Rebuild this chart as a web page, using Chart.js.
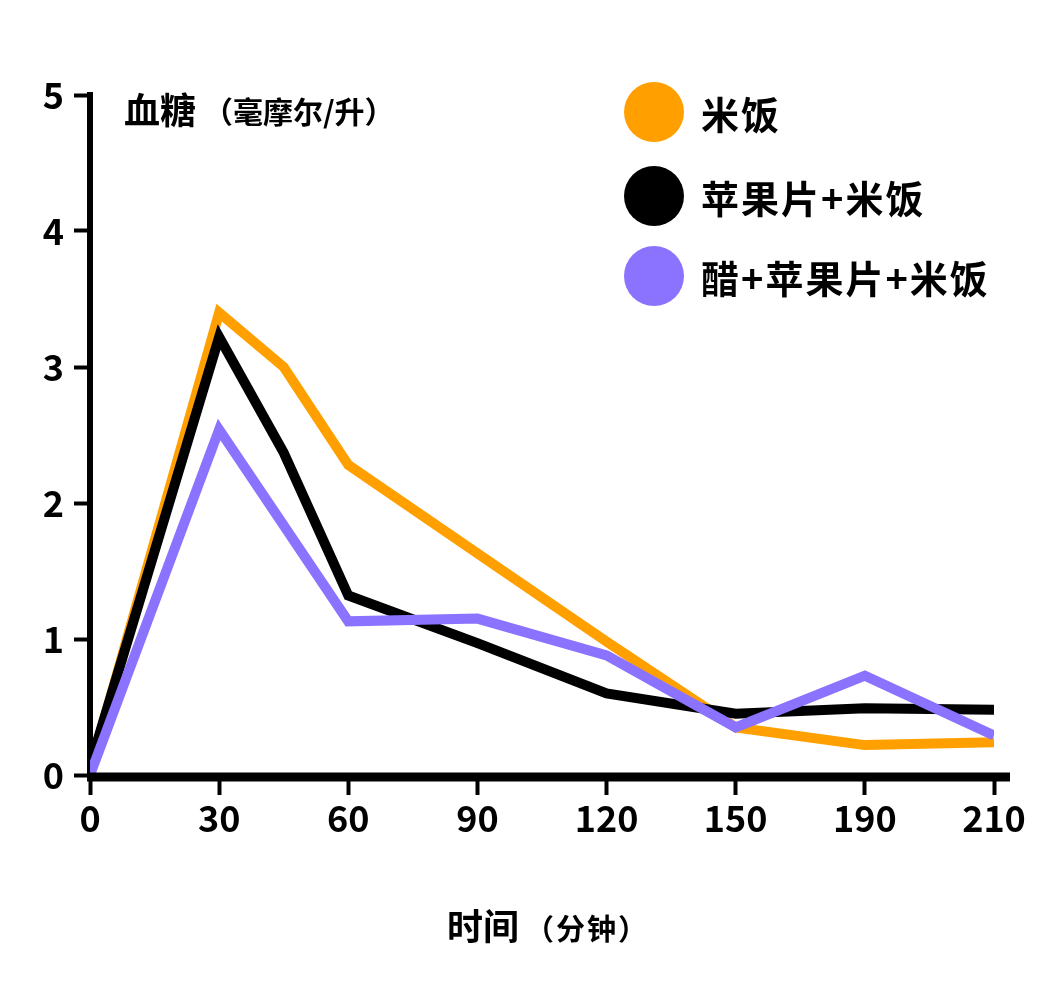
<!DOCTYPE html>
<html>
<head>
<meta charset="utf-8">
<script src="https://cdn.jsdelivr.net/npm/chart.js@4.4.0/dist/chart.umd.min.js"></script>
<style>
  html, body { margin: 0; padding: 0; background: #fff; }
  #wrap { width: 1049px; height: 994px; position: relative; }
</style>
</head>
<body>
<div id="wrap"><canvas id="chart"></canvas></div>
<script>
// x slots are evenly spaced; the slot at 180 carries the "190" label
const timeSlots = [0, 30, 45, 60, 90, 120, 150, 180, 210];
const tickSlots = [0, 30, 60, 90, 120, 150, 180, 210];
const tickLabels = ["0", "30", "60", "90", "120", "150", "190", "210"];

const seriesNames = ["米饭", "苹果片+米饭", "醋+苹果片+米饭"];
const seriesColors = ["#ffa000", "#000000", "#8b72ff"];

const riceValues = [0.04, 3.4, 3.0, 2.28, 1.63, 0.98, 0.35, 0.22, 0.24];
const appleValues = [0.07, 3.22, 2.37, 1.32, 0.97, 0.6, 0.45, 0.49, 0.48];
const vinegarValues = [0.0, 2.54, null, 1.13, 1.15, 0.88, 0.35, 0.73, 0.29];

const FONT = '"Noto Sans CJK SC", "Noto Sans", sans-serif';

function toPoints(values) {
  return values.map((v, i) => ({ x: timeSlots[i], y: v }));
}

const allSeries = [riceValues, appleValues, vinegarValues];

const decorPlugin = {
  id: "decor",
  afterDraw(chart) {
    const ctx = chart.ctx;
    const xs = chart.scales.x;
    const ys = chart.scales.y;
    const y0 = ys.getPixelForValue(0);

    // x axis line (runs a bit past the last tick)
    ctx.save();
    ctx.strokeStyle = "#000";
    ctx.lineWidth = 9;
    ctx.beginPath();
    ctx.moveTo(xs.left - 3, y0 + 2);
    ctx.lineTo(1010, y0 + 2);
    ctx.stroke();

    // y axis title
    ctx.fillStyle = "#000";
    ctx.textBaseline = "middle";
    ctx.textAlign = "left";
    ctx.font = "bold 36px " + FONT;
    ctx.fillText("血糖", 124, 110);
    ctx.font = "bold 30px " + FONT;
    ctx.fillText("（毫摩尔/升）", 203, 112);

    // x axis title
    ctx.font = "bold 36px " + FONT;
    const w1 = ctx.measureText("时间").width;
    const startX = 447;
    ctx.fillText("时间", startX, 926);
    ctx.font = "bold 29px " + FONT;
    ctx.letterSpacing = "2px";
    ctx.fillText("（分钟）", startX + w1 + 6, 929);

    // legend
    const legendY = [112, 196, 276];
    chart.data.datasets.forEach((ds, i) => {
      ctx.fillStyle = ds.borderColor;
      ctx.beginPath();
      ctx.arc(654, legendY[i], 30, 0, Math.PI * 2);
      ctx.fill();
      ctx.fillStyle = "#000";
      ctx.font = "bold 38px " + FONT;
      ctx.fillText(ds.label, 701, legendY[i] + 3);
    });
    ctx.restore();
  },
};

new Chart(document.getElementById("chart"), {
  type: "line",
  data: {
    datasets: allSeries.map((vals, i) => ({
      label: seriesNames[i],
      data: toPoints(vals),
      borderColor: seriesColors[i],
      backgroundColor: seriesColors[i],
      borderWidth: 10,
      borderJoinStyle: "miter",
      borderCapStyle: "butt",
      pointRadius: 0,
      tension: 0,
      spanGaps: true,
      order: 3 - i,
    })),
  },
  options: {
    responsive: true,
    maintainAspectRatio: false,
    animation: false,
    layout: { padding: { left: 0, right: 55, top: 95, bottom: 0 } },
    plugins: {
      legend: { display: false },
      tooltip: { enabled: false },
    },
    scales: {
      x: {
        type: "linear",
        min: 0,
        max: 210,
        afterFit: (s) => { s.height = 219; },
        afterBuildTicks: (s) => { s.ticks = tickSlots.map((v) => ({ value: v })); },
        border: { display: false },
        grid: { drawOnChartArea: false, drawTicks: true, tickLength: 20, tickColor: "#000", tickWidth: 4 },
        ticks: {
          padding: 2,
          color: "#000",
          font: { family: FONT, size: 36, weight: "bold" },
          callback: (v) => tickLabels[tickSlots.indexOf(v)],
          maxRotation: 0,
          autoSkip: false,
        },
      },
      y: {
        min: 0,
        max: 5,
        afterFit: (s) => { s.width = 90; },
        border: { display: true, color: "#000", width: 6 },
        grid: { drawOnChartArea: false, drawTicks: true, tickLength: 16, tickColor: "#000", tickWidth: 4 },
        ticks: {
          stepSize: 1,
          padding: 10,
          color: "#000",
          font: { family: FONT, size: 36, weight: "bold" },
        },
      },
    },
  },
  plugins: [decorPlugin],
});
</script>
</body>
</html>
